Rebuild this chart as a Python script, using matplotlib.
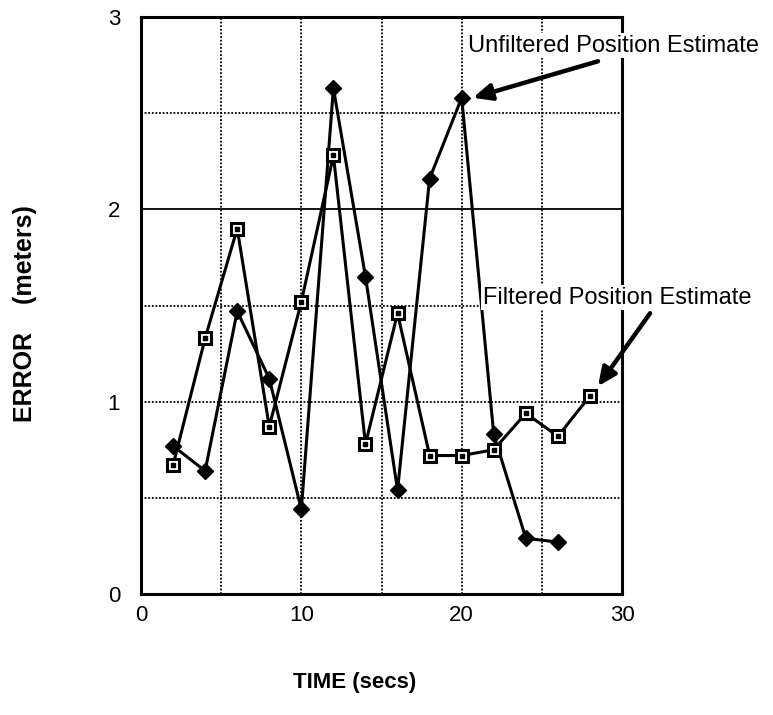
import matplotlib
matplotlib.use("Agg")
import matplotlib.pyplot as plt

plt.rcParams['font.family'] = ['Liberation Sans', 'DejaVu Sans']

# error vs time
time_unf = [2, 4, 6, 8, 10, 12, 14, 16, 18, 20, 22, 24, 26]
err_unf = [0.77, 0.64, 1.47, 1.12, 0.44, 2.63, 1.65, 0.54, 2.16, 2.58, 0.83, 0.29, 0.27]

time_filt = [2, 4, 6, 8, 10, 12, 14, 16, 18, 20, 22, 24, 26, 28]
err_filt = [0.67, 1.33, 1.90, 0.87, 1.52, 2.28, 0.78, 1.46, 0.72, 0.72, 0.75, 0.94, 0.82, 1.03]

xticks = [0, 10, 20, 30]
yticks = [0, 1, 2, 3]

fig = plt.figure(figsize=(7.73, 7.15), dpi=100)
ax = fig.add_axes([0.1824, 0.1692, 0.6223, 0.807])

# grid
for gx in [5, 10, 15, 20, 25]:
    ax.axvline(gx, color='black', ls=(0, (1, 1)), lw=1.3, zorder=1)
for gy in [0.5, 1, 1.5, 2, 2.5]:
    ax.axhline(gy, color='black', ls=(0, (1, 1)) if gy != 2 else '-', lw=1.3, zorder=1)

ax.plot(time_unf, err_unf, color='black', lw=2.2, marker='D', ms=8,
        mfc='black', mec='black', zorder=3)
ax.plot(time_filt, err_filt, color='black', lw=2.2, marker='s', ms=9,
        mfc='white', mec='black', mew=2.2, zorder=4)
ax.plot(time_filt, err_filt, ls='none', marker='s', ms=2.2, mfc='black',
        mec='black', zorder=5)

ax.set_xlim(0, 30)
ax.set_ylim(0, 3)
ax.set_xticks(xticks)
ax.set_yticks(yticks)
ax.tick_params(length=0, labelsize=16)
ax.tick_params(axis='y', pad=15)
ax.tick_params(axis='x', pad=8)
for s in ax.spines.values():
    s.set_linewidth(2.2)

ax.set_xlabel('TIME (secs)', fontsize=16, fontweight='bold')
ax.set_ylabel('ERROR    (meters)', fontsize=18, fontweight='bold')
ax.xaxis.set_label_coords(0.445, -0.135)
ax.yaxis.set_label_coords(-0.216, 0.486)

box = dict(facecolor='white', edgecolor='none', pad=1)
ax.text(20.4, 2.85, 'Unfiltered Position Estimate', fontsize=17, va='center',
        ha='left', bbox=box, zorder=10, clip_on=False)
ax.text(21.3, 1.54, 'Filtered Position Estimate', fontsize=17, va='center',
        ha='left', bbox=box, zorder=10, clip_on=False)

arrow = dict(arrowstyle='-|>,head_length=1.1,head_width=0.5', lw=3.2,
             color='black', shrinkA=0, shrinkB=0)
ax.annotate('', xy=(20.7, 2.58), xytext=(28.5, 2.77), arrowprops=arrow,
            annotation_clip=False, zorder=11)
ax.annotate('', xy=(28.5, 1.08), xytext=(31.75, 1.46), arrowprops=arrow,
            annotation_clip=False, zorder=11)

fig.savefig('out.png', dpi=100)
